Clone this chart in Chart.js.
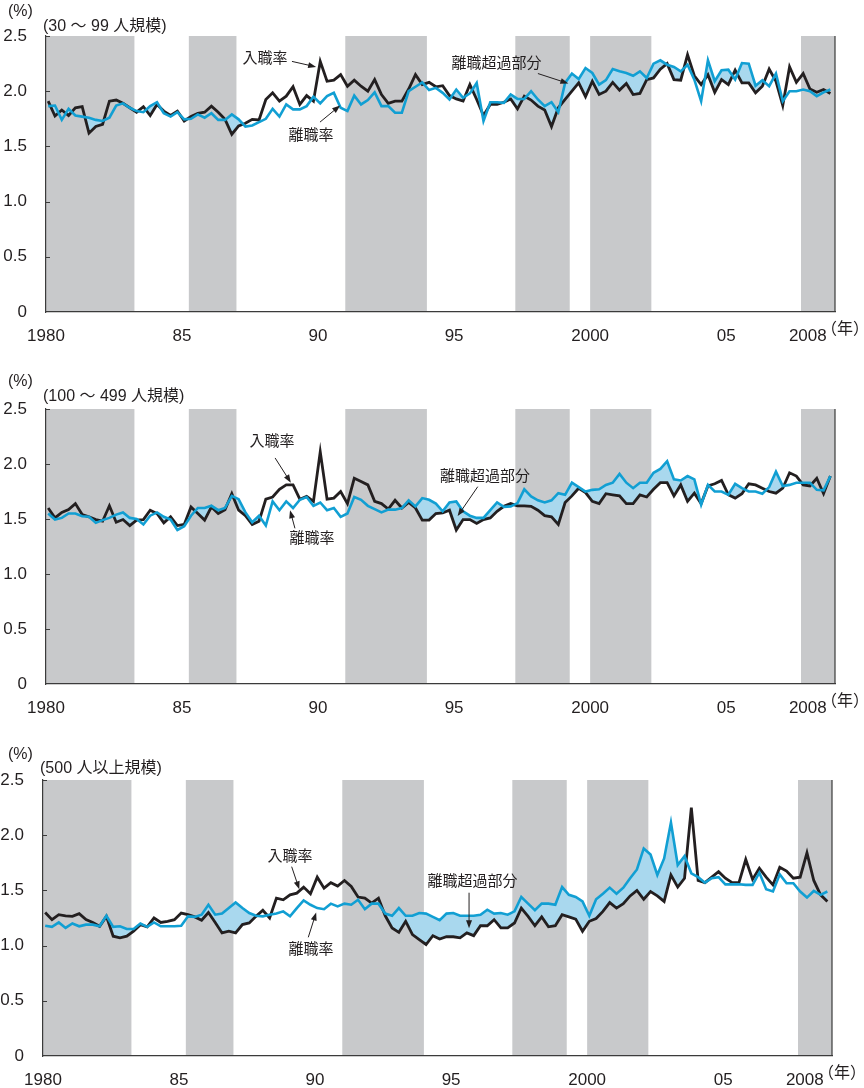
<!DOCTYPE html>
<html lang="ja">
<head>
<meta charset="utf-8">
<title>入職率・離職率の推移（企業規模別）</title>
<script src="https://cdn.jsdelivr.net/npm/chart.js@4.4.0/dist/chart.umd.min.js"></script>
<style>
  html, body { margin: 0; padding: 0; background: #fff; }
  body { position: relative; width: 864px; height: 1088px; overflow: hidden; }
  .panel { position: absolute; left: 0; width: 864px; height: 345px; }
  canvas { display: block; }
</style>
</head>
<body>
<div class="panel" style="top:0px"><canvas id="c1" width="864" height="345"></canvas></div>
<div class="panel" style="top:372px"><canvas id="c2" width="864" height="345"></canvas></div>
<div class="panel" style="top:744px"><canvas id="c3" width="864" height="345"></canvas></div>
<script>
// Quarterly series, 1980Q1 - 2008Q4 (percent)
const FIRST_YEAR = 1980;
const LAST_YEAR = 2008;

// 30-99 employees
const hires30 = [
  1.91, 1.775, 1.83, 1.78, 1.85, 1.86, 1.62, 1.68, 1.70, 1.91,
  1.92, 1.89, 1.85, 1.81, 1.86, 1.78, 1.88, 1.82, 1.78, 1.82,
  1.73, 1.77, 1.80, 1.81, 1.865, 1.81, 1.745, 1.61, 1.685, 1.71,
  1.745, 1.74, 1.925, 1.985, 1.91, 1.955, 2.04, 1.88, 1.96, 1.91,
  2.27, 2.09, 2.10, 2.15, 2.045, 2.10, 2.045, 2.00, 2.105, 1.97,
  1.89, 1.91, 1.91, 2.02, 2.15, 2.06, 2.08, 2.04, 2.05, 1.96,
  1.93, 1.91, 2.06, 1.925, 1.78, 1.88, 1.88, 1.90, 1.93, 1.84,
  1.955, 1.92, 1.865, 1.83, 1.68, 1.85, 1.925, 2.00, 2.075, 1.95,
  2.09, 1.97, 2.00, 2.08, 2.01, 2.07, 1.97, 1.98, 2.105, 2.12,
  2.20, 2.25, 2.105, 2.10, 2.33, 2.14, 2.06, 2.15, 1.99, 2.105,
  2.06, 2.19, 2.075, 2.075, 1.985, 2.045, 2.20, 2.09, 1.87, 2.22,
  2.08, 2.16, 2.02, 1.99, 2.015, 1.98
];
const seps30 = [
  1.865, 1.87, 1.74, 1.84, 1.78, 1.77, 1.76, 1.74, 1.73, 1.76,
  1.87, 1.89, 1.85, 1.82, 1.81, 1.865, 1.90, 1.80, 1.77, 1.81,
  1.745, 1.75, 1.79, 1.76, 1.80, 1.74, 1.74, 1.79, 1.745, 1.68,
  1.69, 1.72, 1.75, 1.84, 1.77, 1.88, 1.835, 1.835, 1.865, 1.95,
  1.89, 1.955, 1.985, 1.85, 1.82, 1.96, 1.88, 1.92, 1.99, 1.865,
  1.865, 1.805, 1.805, 2.00, 2.04, 2.08, 2.01, 2.03, 1.985, 1.925,
  2.015, 1.94, 1.98, 2.075, 1.73, 1.90, 1.90, 1.895, 1.97, 1.93,
  1.93, 2.00, 1.925, 1.865, 1.90, 1.81, 2.075, 2.16, 2.11, 2.21,
  2.165, 2.06, 2.10, 2.20, 2.18, 2.165, 2.14, 2.18, 2.12, 2.25,
  2.28, 2.24, 2.22, 2.18, 2.24, 2.105, 1.91, 2.28, 2.09, 2.19,
  2.195, 2.105, 2.255, 2.25, 2.05, 2.10, 2.045, 2.16, 1.91, 2.00,
  2.00, 2.015, 2.00, 1.955, 1.99, 2.015
];

// 100-499 employees
const hires100 = [
  1.60, 1.51, 1.56, 1.585, 1.64, 1.54, 1.52, 1.495, 1.48, 1.62,
  1.47, 1.495, 1.44, 1.49, 1.495, 1.58, 1.55, 1.465, 1.52, 1.44,
  1.45, 1.61, 1.55, 1.49, 1.61, 1.55, 1.585, 1.73, 1.58, 1.53,
  1.45, 1.48, 1.68, 1.70, 1.77, 1.81, 1.81, 1.68, 1.705, 1.66,
  2.11, 1.68, 1.69, 1.75, 1.64, 1.87, 1.84, 1.81, 1.66, 1.64,
  1.59, 1.67, 1.60, 1.65, 1.60, 1.49, 1.49, 1.55, 1.555, 1.58,
  1.40, 1.495, 1.495, 1.46, 1.495, 1.51, 1.57, 1.615, 1.64, 1.62,
  1.62, 1.615, 1.58, 1.53, 1.52, 1.45, 1.65, 1.71, 1.78, 1.74,
  1.66, 1.64, 1.73, 1.72, 1.71, 1.64, 1.64, 1.72, 1.70, 1.77,
  1.83, 1.83, 1.71, 1.81, 1.66, 1.735, 1.64, 1.80, 1.82, 1.85,
  1.72, 1.69, 1.73, 1.82, 1.81, 1.78, 1.75, 1.735, 1.78, 1.92,
  1.89, 1.81, 1.80, 1.87, 1.73, 1.89
];
const seps100 = [
  1.55, 1.495, 1.51, 1.55, 1.55, 1.525, 1.52, 1.465, 1.49, 1.51,
  1.54, 1.56, 1.51, 1.50, 1.45, 1.53, 1.56, 1.52, 1.495, 1.40,
  1.435, 1.53, 1.60, 1.60, 1.62, 1.58, 1.60, 1.71, 1.68, 1.56,
  1.47, 1.53, 1.44, 1.66, 1.58, 1.66, 1.60, 1.675, 1.70, 1.62,
  1.65, 1.58, 1.60, 1.52, 1.55, 1.70, 1.675, 1.62, 1.59, 1.56,
  1.585, 1.585, 1.60, 1.67, 1.615, 1.69, 1.675, 1.64, 1.57, 1.65,
  1.66, 1.57, 1.53, 1.51, 1.51, 1.58, 1.65, 1.61, 1.615, 1.645,
  1.77, 1.705, 1.67, 1.65, 1.67, 1.735, 1.72, 1.83, 1.79, 1.75,
  1.765, 1.77, 1.81, 1.83, 1.91, 1.83, 1.78, 1.83, 1.83, 1.92,
  1.955, 2.025, 1.86, 1.85, 1.89, 1.86, 1.63, 1.81, 1.75, 1.75,
  1.72, 1.82, 1.78, 1.75, 1.75, 1.73, 1.79, 1.93, 1.80, 1.81,
  1.83, 1.83, 1.83, 1.765, 1.76, 1.89
];

// 500 employees and over
const hires500 = [
  1.30, 1.235, 1.28, 1.27, 1.265, 1.29, 1.235, 1.21, 1.175, 1.265,
  1.085, 1.07, 1.085, 1.13, 1.19, 1.17, 1.25, 1.21, 1.22, 1.235,
  1.295, 1.28, 1.26, 1.23, 1.30, 1.21, 1.115, 1.13, 1.115, 1.19,
  1.205, 1.265, 1.32, 1.25, 1.43, 1.415, 1.46, 1.475, 1.53, 1.47,
  1.62, 1.52, 1.57, 1.54, 1.59, 1.535, 1.44, 1.43, 1.385, 1.43,
  1.27, 1.16, 1.12, 1.22, 1.10, 1.055, 1.01, 1.09, 1.06, 1.08,
  1.08, 1.07, 1.115, 1.09, 1.18, 1.18, 1.235, 1.16, 1.16, 1.205,
  1.34, 1.265, 1.18, 1.26, 1.17, 1.18, 1.28, 1.26, 1.24, 1.13,
  1.22, 1.245, 1.31, 1.39, 1.34, 1.38, 1.45, 1.50, 1.42, 1.49,
  1.45, 1.40, 1.64, 1.53, 1.61, 2.25, 1.59, 1.57, 1.62, 1.67,
  1.61, 1.57, 1.57, 1.78, 1.60, 1.70, 1.62, 1.55, 1.71, 1.675,
  1.61, 1.62, 1.84, 1.59, 1.46, 1.40
];
const seps500 = [
  1.18, 1.17, 1.21, 1.16, 1.20, 1.175, 1.19, 1.19, 1.175, 1.27,
  1.17, 1.175, 1.15, 1.15, 1.20, 1.17, 1.21, 1.175, 1.175, 1.175,
  1.18, 1.265, 1.26, 1.28, 1.37, 1.28, 1.29, 1.34, 1.39, 1.34,
  1.295, 1.27, 1.265, 1.28, 1.29, 1.31, 1.265, 1.34, 1.41, 1.37,
  1.34, 1.33, 1.38, 1.355, 1.38, 1.37, 1.415, 1.33, 1.38, 1.38,
  1.29, 1.27, 1.34, 1.27, 1.27, 1.295, 1.29, 1.26, 1.23, 1.29,
  1.295, 1.27, 1.27, 1.27, 1.28, 1.325, 1.29, 1.295, 1.28, 1.31,
  1.44, 1.38, 1.32, 1.38, 1.38, 1.37, 1.53, 1.46, 1.44, 1.40,
  1.27, 1.42, 1.47, 1.525, 1.47, 1.525, 1.61, 1.69, 1.88, 1.825,
  1.64, 1.79, 2.115, 1.73, 1.81, 1.655, 1.62, 1.57, 1.61, 1.62,
  1.555, 1.555, 1.555, 1.55, 1.55, 1.66, 1.51, 1.49, 1.645, 1.565,
  1.565, 1.49, 1.435, 1.495, 1.46, 1.49
];

// Axis ticks
const tickYears  = [1980, 1985, 1990, 1995, 2000, 2005, 2008];
const tickLabels = ['1980', '85', '90', '95', '2000', '05', '2008'];
const yTicks = [0, 0.5, 1.0, 1.5, 2.0, 2.5];

// Recession periods (shaded), in fractional years
const recessions = [
  [1980.0, 1983.25], [1985.25, 1987.0], [1991.0, 1994.0],
  [1997.25, 1999.25], [2000.0, 2002.25], [2007.75, 2009.0]
];

// Quarter categories
const quarters = [];
for (let y = FIRST_YEAR; y <= LAST_YEAR; y++) {
  for (let q = 1; q <= 4; q++) quarters.push({ year: y, q: q, label: y + 'Q' + q });
}

const BLACK = '#231f20';
const BLUE = '#119fd3';
const FILL = '#a9d8ee';
const BAND = '#c8c9cb';
const AXIS = '#3b3b3b';
const TEXT = '#231f20';
const NUM_FONT = '"Liberation Sans", Arial, "Noto Sans CJK JP", sans-serif';
const JP_FONT = '"Liberation Sans", "Noto Sans CJK JP", sans-serif';

function toPoints(values) {
  return values.map((v, i) => ({ x: quarters[i].year + (quarters[i].q - 1) / 4 + 0.08, y: v }));
}

// Shaded recession bands behind everything
const bandsPlugin = {
  id: 'bands',
  beforeDraw(chart) {
    const { ctx, chartArea: a, scales: { x } } = chart;
    ctx.save();
    ctx.fillStyle = BAND;
    recessions.forEach(([s, e]) => {
      const x0 = Math.max(a.left, x.getPixelForValue(s));
      const x1 = Math.min(a.right, x.getPixelForValue(e));
      ctx.fillRect(x0, a.top, x1 - x0, a.bottom - a.top);
    });
    ctx.restore();
  }
};

// Right-hand frame line and short inward ticks on the value axis
const framePlugin = {
  id: 'frame',
  afterDatasetsDraw(chart) {
    const { ctx, chartArea: a, scales: { y } } = chart;
    ctx.save();
    ctx.strokeStyle = AXIS;
    ctx.lineWidth = 1.2;
    ctx.beginPath();
    ctx.moveTo(a.right, a.top);
    ctx.lineTo(a.right, a.bottom);
    yTicks.forEach(v => {
      if (v === 0) return;
      const py = Math.round(y.getPixelForValue(v)) + 0.5;
      ctx.moveTo(a.left, py);
      ctx.lineTo(a.left + 4, py);
    });
    ctx.stroke();
    ctx.restore();
  }
};

// Unit, panel caption, year unit and callouts with arrows
const notesPlugin = {
  id: 'notes',
  afterDraw(chart, args, opts) {
    const { ctx, chartArea: a, scales: { x, y } } = chart;
    ctx.save();
    ctx.fillStyle = TEXT;
    ctx.textBaseline = 'middle';
    ctx.textAlign = 'left';
    ctx.font = '16px ' + JP_FONT;
    ctx.fillText('(%)', 8, opts.unitY);
    ctx.font = '16px ' + JP_FONT;
    ctx.fillText(opts.caption, a.left - 3, opts.captionY);
    ctx.fillText('（年）', a.right - 14, a.bottom + 18);

    ctx.font = '15px "Noto Sans CJK JP", sans-serif';
    ctx.textAlign = 'center';
    opts.notes.forEach(n => {
      ctx.fillStyle = TEXT;
      ctx.fillText(n.text, x.getPixelForValue(n.at[0]), y.getPixelForValue(n.at[1]));
      const x1 = x.getPixelForValue(n.from[0]), y1 = y.getPixelForValue(n.from[1]);
      const x2 = x.getPixelForValue(n.to[0]), y2 = y.getPixelForValue(n.to[1]);
      const ang = Math.atan2(y2 - y1, x2 - x1);
      const len = 8, half = 3;
      ctx.strokeStyle = TEXT;
      ctx.lineWidth = 1;
      ctx.beginPath();
      ctx.moveTo(x1, y1);
      ctx.lineTo(x2 - Math.cos(ang) * len * 0.8, y2 - Math.sin(ang) * len * 0.8);
      ctx.stroke();
      ctx.beginPath();
      ctx.moveTo(x2, y2);
      ctx.lineTo(x2 - Math.cos(ang) * len - Math.sin(ang) * half, y2 - Math.sin(ang) * len + Math.cos(ang) * half);
      ctx.lineTo(x2 - Math.cos(ang) * len + Math.sin(ang) * half, y2 - Math.sin(ang) * len - Math.cos(ang) * half);
      ctx.closePath();
      ctx.fill();
    });
    ctx.restore();
  }
};

function makePanel(id, hires, seps, cfg) {
  const tickFont = { family: NUM_FONT, size: 17 };
  return new Chart(document.getElementById(id), {
    type: 'line',
    data: {
      datasets: [
        { label: '入職率', data: toPoints(hires), borderColor: BLACK, borderWidth: 2.8,
          pointRadius: 0, tension: 0, fill: false, order: 2 },
        { label: '離職率', data: toPoints(seps), borderColor: BLUE, borderWidth: 2.6,
          pointRadius: 0, tension: 0, order: 1,
          fill: { target: '-1', above: FILL, below: 'rgba(0,0,0,0)' } }
      ]
    },
    options: {
      responsive: false,
      animation: false,
      events: [],
      layout: { padding: { top: cfg.padTop, right: cfg.padRight, left: 0, bottom: 0 } },
      plugins: {
        legend: { display: false },
        tooltip: { enabled: false },
        filler: { drawTime: 'beforeDatasetsDraw' },
        notes: { caption: cfg.caption, unitY: cfg.unitY, captionY: cfg.captionY, notes: cfg.notes }
      },
      scales: {
        x: {
          type: 'linear', min: 1980, max: 2009,
          afterBuildTicks: s => { s.ticks = tickYears.map(v => ({ value: v })); },
          afterFit: s => { s.height = 33; },
          ticks: {
            autoSkip: false, maxRotation: 0, padding: 6, color: TEXT, font: tickFont,
            callback: v => tickLabels[tickYears.indexOf(v)]
          },
          grid: { display: false },
          border: { display: true, color: AXIS, width: 1.2 }
        },
        y: {
          min: 0, max: 2.5,
          afterBuildTicks: s => { s.ticks = yTicks.map(v => ({ value: v })); },
          afterFit: s => { s.width = cfg.axisW; },
          ticks: {
            padding: 11, color: TEXT, font: tickFont,
            callback: v => (v === 0 ? '0' : v.toFixed(1))
          },
          grid: { display: false },
          border: { display: true, color: AXIS, width: 1.2 }
        }
      }
    },
    plugins: [bandsPlugin, framePlugin, notesPlugin]
  });
}

makePanel('c1', hires30, seps30, {
  padTop: 36, padRight: 29, axisW: 46, unitY: 12, captionY: 27,
  caption: '(30 ～ 99 人規模)',
  notes: [
    { text: '入職率', at: [1988.05, 2.31], from: [1989.04, 2.27], to: [1989.93, 2.22] },
    { text: '離職率', at: [1989.74, 1.61], from: [1990.07, 1.72], to: [1990.81, 1.87] },
    { text: '離職超過部分', at: [1996.56, 2.26], from: [1998.08, 2.16], to: [1999.2, 2.07] }
  ]
});

makePanel('c2', hires100, seps100, {
  padTop: 37, padRight: 29, axisW: 46, unitY: 10, captionY: 25,
  caption: '(100 ～ 499 人規模)',
  notes: [
    { text: '入職率', at: [1988.31, 2.22], from: [1988.42, 2.055], to: [1989.0, 1.83] },
    { text: '離職率', at: [1989.78, 1.33], from: [1989.15, 1.415], to: [1988.97, 1.58] },
    { text: '離職超過部分', at: [1996.14, 1.90], from: [1995.87, 1.794], to: [1995.13, 1.527] }
  ]
});

makePanel('c3', hires500, seps500, {
  padTop: 36, padRight: 32, axisW: 43, unitY: 11, captionY: 25,
  caption: '(500 人以上規模)',
  notes: [
    { text: '入職率', at: [1989.08, 1.82], from: [1989.14, 1.715], to: [1989.42, 1.51] },
    { text: '離職率', at: [1989.85, 0.978], from: [1989.75, 1.075], to: [1990.04, 1.30] },
    { text: '離職超過部分', at: [1995.79, 1.594], from: [1995.66, 1.479], to: [1995.66, 1.157] }
  ]
});
</script>
</body>
</html>
